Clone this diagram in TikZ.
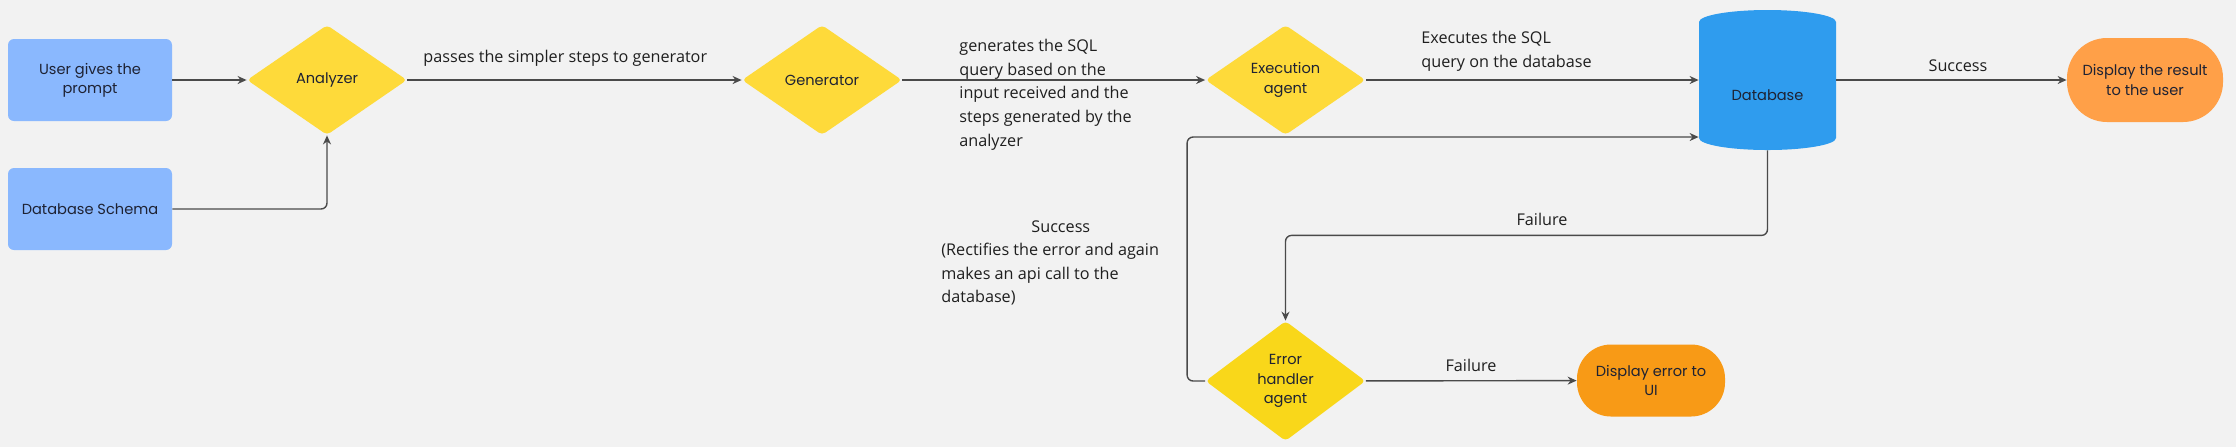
\documentclass[tikz,border=0pt]{standalone}
\usepackage{fontspec}
\setmainfont{Open Sans}
\newfontfamily\nodefont{Poppins}
\usetikzlibrary{shapes.geometric,arrows.meta,calc}
\definecolor{bg}{HTML}{F2F2F2}
\definecolor{boxblue}{HTML}{8AB8FE}
\definecolor{dia}{HTML}{FEDA3A}
\definecolor{diaerr}{HTML}{F9D71A}
\definecolor{dbblue}{HTML}{2F9CEE}
\definecolor{resorange}{HTML}{FFA048}
\definecolor{errorange}{HTML}{F89A16}
\definecolor{linec}{HTML}{4A4A4A}
\definecolor{ink}{HTML}{1E2233}
\begin{document}
\begin{tikzpicture}[x=0.5pt,y=-0.5pt,
  nodetext/.style={font=\nodefont\fontsize{7.3}{9.6}\selectfont, text=ink, align=center, inner sep=0pt},
  box/.style={nodetext, rectangle, fill=boxblue, rounded corners=3pt, minimum width=82pt, minimum height=41pt},
  dec/.style={nodetext, diamond, fill=dia, rounded corners=2pt, minimum width=80pt, minimum height=55pt},
  term/.style={nodetext, rectangle, draw=none},
  lbl/.style={font=\fontsize{8.1}{11.8}\selectfont, text=black!88, inner sep=0pt, align=left},
  arr/.style={draw=linec, line width=0.7pt, rounded corners=3pt, -{Stealth[length=4.5pt,width=4pt]}}
]
\fill[bg] (0,0) rectangle (2236,447);
\useasboundingbox (0,0) rectangle (2236,447);

% nodes
\node[box] (user) at (90,80) {User gives the\\prompt};
\node[box] (schema) at (90,209) {Database Schema};
\node[dec] (ana) at (327,80) {Analyzer};
\node[dec] (gen) at (822,80) {Generator};
\node[dec] (exe) at (1285.5,80) {Execution\\agent};

% database cylinder
\fill[dbblue] (1699,22) .. controls (1699,15.4) and (1729.7,10) .. (1767.5,10)
  .. controls (1805.3,10) and (1836,15.4) .. (1836,22) -- (1836,138)
  .. controls (1836,144.6) and (1805.3,150) .. (1767.5,150)
  .. controls (1729.7,150) and (1699,144.6) .. (1699,138) -- cycle;
\node[nodetext, minimum width=68.5pt, minimum height=70pt, text height=20pt, text depth=0pt] (db) at (1767.5,80) {Database};

\node[term, fill=resorange, minimum width=78pt, minimum height=42pt, rounded corners=20pt] (res) at (2145,80) {Display the result\\to the user};
\node[dec, fill=diaerr, minimum width=80pt, minimum height=60pt] (err) at (1285.5,381) {Error\\handler\\agent};
\node[term, fill=errorange, minimum width=74pt, minimum height=36pt, rounded corners=17pt] (errui) at (1651,380.5) {Display error to\\UI};

% connectors
\draw[arr] (user) -- (ana);
\draw[arr] (schema) -| (ana);
\draw[arr] (ana) -- (gen);
\draw[arr] (gen) -- (exe);
\draw[arr] (exe) -- (db.west);
\draw[arr] (db.east) -- (res);
\draw[arr] (db.south) -- ++(0,85) -| (err.north);
\draw[arr] (err) -- (errui);
\draw[arr] (err.west) -- ++(-18,0) |- ($(db.west)+(0,57)$);

% labels
\node[lbl, anchor=west] (l1) at (423,58) {passes the simpler steps to generator};
\node[lbl, anchor=north west] (l2) at (959,39) {generates the SQL\\query based on the\\input received and the\\steps generated by the\\analyzer};
\node[lbl, anchor=north west] (l3) at (1421,31) {Executes the SQL\\query on the database};
\node[lbl] (l4) at (1958,66) {Success};
\node[lbl] (l5) at (1542,219) {Failure};
\node[lbl, anchor=north west] (l6) at (941,220) {\hspace*{45pt}Success\\(Rectifies the error and again\\makes an api call to the\\database)};
\node[lbl] (l7) at (1471,365) {Failure};
\end{tikzpicture}
\end{document}
